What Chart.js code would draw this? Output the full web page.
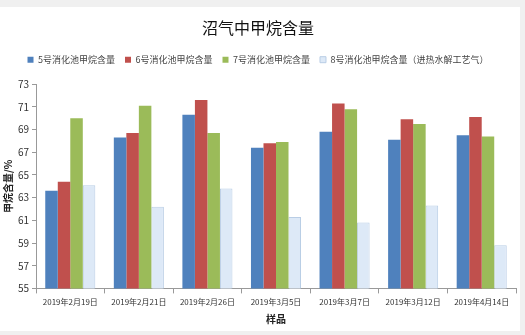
<!DOCTYPE html>
<html>
<head>
<meta charset="utf-8">
<script src="https://cdn.jsdelivr.net/npm/chart.js@4"></script>
<style>
  html, body { margin: 0; padding: 0; background: #f0f0f0; }
  #wrap { position: absolute; left: 0; top: 7px; width: 520px; height: 324px; background: #fff; }
</style>
</head>
<body>
<div id="wrap"><canvas id="chart" width="520" height="324"></canvas></div>
<script>
// 样品日期
const categories = ['2019年2月19日', '2019年2月21日', '2019年2月26日', '2019年3月5日', '2019年3月7日', '2019年3月12日', '2019年4月14日'];

// 各消化池甲烷含量 (%)
const pool5 = [63.6, 68.3, 70.3, 67.4, 68.8, 68.1, 68.5];
const pool6 = [64.4, 68.7, 71.6, 67.8, 71.3, 69.9, 70.1];
const pool7 = [70.0, 71.1, 68.7, 67.9, 70.8, 69.5, 68.4];
const pool8 = [64.1, 62.2, 63.8, 61.3, 60.8, 62.3, 58.8];

const seriesNames = ['5号消化池甲烷含量', '6号消化池甲烷含量', '7号消化池甲烷含量', '8号消化池甲烷含量（进热水解工艺气）'];

const yTicks = [55, 57, 59, 61, 63, 65, 67, 69, 71, 73];

const font = '"Noto Sans CJK SC", "Noto Sans", sans-serif';

// 图例下方留白
const legendGap = {
  id: 'legendGap',
  beforeInit(chart) {
    const fit = chart.legend.fit;
    chart.legend.fit = function () {
      fit.bind(chart.legend)();
      this.height += 10;
    };
  }
};

const ctx = document.getElementById('chart').getContext('2d');
new Chart(ctx, {
  type: 'bar',
  data: {
    labels: categories,
    datasets: [
      { label: seriesNames[0], data: pool5, backgroundColor: '#4f81bd' },
      { label: seriesNames[1], data: pool6, backgroundColor: '#c0504d' },
      { label: seriesNames[2], data: pool7, backgroundColor: '#9bbb59' },
      { label: seriesNames[3], data: pool8, backgroundColor: '#dde9f7', borderColor: '#b9cde5', borderWidth: 1 }
    ]
  },
  plugins: [legendGap],
  options: {
    responsive: false,
    animation: false,
    datasets: { bar: { categoryPercentage: 0.73, barPercentage: 1.0 } },
    layout: { padding: { left: 0, right: 4, top: 9, bottom: 2 } },
    plugins: {
      title: {
        display: true,
        text: '沼气中甲烷含量',
        color: '#111',
        font: { family: font, size: 16, weight: 'normal' },
        padding: { top: 2, bottom: 8 }
      },
      legend: {
        position: 'top',
        labels: {
          color: '#444',
          font: { family: font, size: 9 },
          boxWidth: 6,
          boxHeight: 6,
          padding: 10
        }
      },
      tooltip: { enabled: false }
    },
    scales: {
      x: {
        grid: { display: true, drawOnChartArea: false, offset: true, color: '#999', tickLength: 5 },
        border: { color: '#999' },
        ticks: { color: '#333', font: { family: font, size: 8 }, maxRotation: 0, autoSkip: false, padding: 4 },
        title: { display: true, text: '样品', color: '#222', font: { family: font, size: 10, weight: 'bold' }, padding: { top: 2 } }
      },
      y: {
        min: 55,
        max: 73,
        afterBuildTicks: s => { s.ticks = yTicks.map(v => ({ value: v })); },
        grid: { display: true, drawOnChartArea: false, color: '#999', tickLength: 4 },
        border: { color: '#999' },
        ticks: { color: '#333', font: { family: font, size: 10 }, padding: 3 },
        title: { display: true, text: '甲烷含量/%', color: '#222', font: { family: font, size: 10, weight: 'bold' }, padding: 2 },
        afterFit: s => { s.width = 36; }
      }
    }
  }
});
</script>
</body>
</html>
